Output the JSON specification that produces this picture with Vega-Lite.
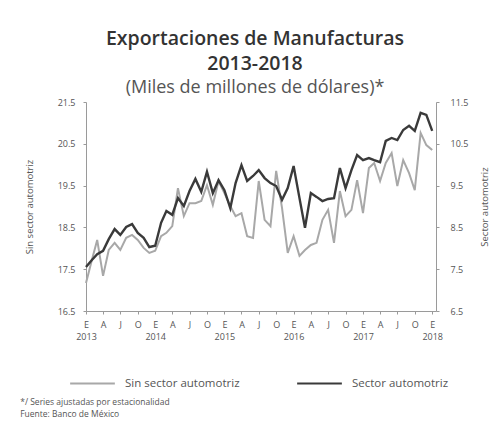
{
  "$schema": "https://vega.github.io/schema/vega-lite/v6.json",
  "padding": {"left": 20, "top": 28, "right": 6, "bottom": 8},
  "config": {
    "font": "Open Sans",
    "view": {"stroke": null},
    "axis": {"grid": false, "domainColor": "#9a9a9a", "tickColor": "#9a9a9a", "tickSize": 3, "labelFontSize": 9, "labelColor": "#555", "titleFontSize": 9.5, "titleFontWeight": "normal", "titleColor": "#555", "labelFont": "Open Sans"}
  },
  "title": {
    "text": ["*/ Series ajustadas por estacionalidad", "Fuente: Banco de México"],
    "orient": "bottom", "anchor": "start", "frame": "bounds",
    "fontSize": 8.5, "fontWeight": "normal", "color": "#555", "lineHeight": 12, "offset": 9, "dx": -4
  },
  "vconcat": [
    {
      "width": 350,
      "height": 209,
      "title": {
        "text": ["Exportaciones de Manufacturas", "2013-2018"],
        "subtitle": "(Miles de millones de dólares)*",
        "anchor": "middle", "frame": "group", "dx": -6,
        "fontSize": 19.5, "fontWeight": 600, "color": "#333", "lineHeight": 25,
        "subtitleFontSize": 18, "subtitleColor": "#555", "subtitlePadding": 5, "subtitleFont": "Open Sans",
        "offset": 0
      },
      "data": {
        "values": [
          {"fecha": "2013-01-01", "sin": 17.17, "sector": 7.55},
          {"fecha": "2013-02-01", "sin": 17.72, "sector": 7.72},
          {"fecha": "2013-03-01", "sin": 18.20, "sector": 7.86},
          {"fecha": "2013-04-01", "sin": 17.34, "sector": 7.94},
          {"fecha": "2013-05-01", "sin": 17.96, "sector": 8.22},
          {"fecha": "2013-06-01", "sin": 18.13, "sector": 8.46},
          {"fecha": "2013-07-01", "sin": 17.96, "sector": 8.32},
          {"fecha": "2013-08-01", "sin": 18.25, "sector": 8.51},
          {"fecha": "2013-09-01", "sin": 18.32, "sector": 8.58},
          {"fecha": "2013-10-01", "sin": 18.20, "sector": 8.37},
          {"fecha": "2013-11-01", "sin": 18.01, "sector": 8.25},
          {"fecha": "2013-12-01", "sin": 17.89, "sector": 8.03},
          {"fecha": "2014-01-01", "sin": 17.94, "sector": 8.06},
          {"fecha": "2014-02-01", "sin": 18.29, "sector": 8.61},
          {"fecha": "2014-03-01", "sin": 18.37, "sector": 8.89},
          {"fecha": "2014-04-01", "sin": 18.53, "sector": 8.80},
          {"fecha": "2014-05-01", "sin": 19.44, "sector": 9.20},
          {"fecha": "2014-06-01", "sin": 18.77, "sector": 9.01},
          {"fecha": "2014-07-01", "sin": 19.08, "sector": 9.37},
          {"fecha": "2014-08-01", "sin": 19.08, "sector": 9.66},
          {"fecha": "2014-09-01", "sin": 19.13, "sector": 9.35},
          {"fecha": "2014-10-01", "sin": 19.51, "sector": 9.83},
          {"fecha": "2014-11-01", "sin": 19.04, "sector": 9.32},
          {"fecha": "2014-12-01", "sin": 19.61, "sector": 9.63},
          {"fecha": "2015-01-01", "sin": 19.32, "sector": 9.39},
          {"fecha": "2015-02-01", "sin": 19.01, "sector": 8.96},
          {"fecha": "2015-03-01", "sin": 18.77, "sector": 9.56},
          {"fecha": "2015-04-01", "sin": 18.84, "sector": 9.99},
          {"fecha": "2015-05-01", "sin": 18.29, "sector": 9.61},
          {"fecha": "2015-06-01", "sin": 18.25, "sector": 9.73},
          {"fecha": "2015-07-01", "sin": 19.61, "sector": 9.87},
          {"fecha": "2015-08-01", "sin": 18.68, "sector": 9.68},
          {"fecha": "2015-09-01", "sin": 18.53, "sector": 9.56},
          {"fecha": "2015-10-01", "sin": 19.85, "sector": 9.49},
          {"fecha": "2015-11-01", "sin": 18.96, "sector": 9.16},
          {"fecha": "2015-12-01", "sin": 17.89, "sector": 9.44},
          {"fecha": "2016-01-01", "sin": 18.29, "sector": 9.97},
          {"fecha": "2016-02-01", "sin": 17.82, "sector": 9.20},
          {"fecha": "2016-03-01", "sin": 17.96, "sector": 8.49},
          {"fecha": "2016-04-01", "sin": 18.08, "sector": 9.32},
          {"fecha": "2016-05-01", "sin": 18.13, "sector": 9.23},
          {"fecha": "2016-06-01", "sin": 18.68, "sector": 9.13},
          {"fecha": "2016-07-01", "sin": 18.92, "sector": 9.18},
          {"fecha": "2016-08-01", "sin": 18.13, "sector": 9.20},
          {"fecha": "2016-09-01", "sin": 19.37, "sector": 9.92},
          {"fecha": "2016-10-01", "sin": 18.77, "sector": 9.44},
          {"fecha": "2016-11-01", "sin": 18.92, "sector": 9.87},
          {"fecha": "2016-12-01", "sin": 19.63, "sector": 10.23},
          {"fecha": "2017-01-01", "sin": 18.84, "sector": 10.11},
          {"fecha": "2017-02-01", "sin": 19.92, "sector": 10.16},
          {"fecha": "2017-03-01", "sin": 20.04, "sector": 10.11},
          {"fecha": "2017-04-01", "sin": 19.61, "sector": 10.06},
          {"fecha": "2017-05-01", "sin": 20.04, "sector": 10.57},
          {"fecha": "2017-06-01", "sin": 20.28, "sector": 10.64},
          {"fecha": "2017-07-01", "sin": 19.49, "sector": 10.59},
          {"fecha": "2017-08-01", "sin": 20.11, "sector": 10.83},
          {"fecha": "2017-09-01", "sin": 19.80, "sector": 10.93},
          {"fecha": "2017-10-01", "sin": 19.39, "sector": 10.81},
          {"fecha": "2017-11-01", "sin": 20.76, "sector": 11.24},
          {"fecha": "2017-12-01", "sin": 20.47, "sector": 11.19},
          {"fecha": "2018-01-01", "sin": 20.35, "sector": 10.81}
        ]
      },
      "encoding": {
        "x": {
          "field": "fecha", "type": "temporal",
          "scale": {"type": "utc", "domain": [{"year": 2013, "month": 1, "date": 1, "utc": true}, {"year": 2018, "month": 1, "date": 21, "utc": true}]},
          "axis": {
            "title": null,
            "values": [
              {"year": 2013, "month": 1, "date": 1, "utc": true}, {"year": 2013, "month": 4, "date": 1, "utc": true}, {"year": 2013, "month": 7, "date": 1, "utc": true}, {"year": 2013, "month": 10, "date": 1, "utc": true},
              {"year": 2014, "month": 1, "date": 1, "utc": true}, {"year": 2014, "month": 4, "date": 1, "utc": true}, {"year": 2014, "month": 7, "date": 1, "utc": true}, {"year": 2014, "month": 10, "date": 1, "utc": true},
              {"year": 2015, "month": 1, "date": 1, "utc": true}, {"year": 2015, "month": 4, "date": 1, "utc": true}, {"year": 2015, "month": 7, "date": 1, "utc": true}, {"year": 2015, "month": 10, "date": 1, "utc": true},
              {"year": 2016, "month": 1, "date": 1, "utc": true}, {"year": 2016, "month": 4, "date": 1, "utc": true}, {"year": 2016, "month": 7, "date": 1, "utc": true}, {"year": 2016, "month": 10, "date": 1, "utc": true},
              {"year": 2017, "month": 1, "date": 1, "utc": true}, {"year": 2017, "month": 4, "date": 1, "utc": true}, {"year": 2017, "month": 7, "date": 1, "utc": true}, {"year": 2017, "month": 10, "date": 1, "utc": true},
              {"year": 2018, "month": 1, "date": 1, "utc": true}
            ],
            "labelExpr": "utcmonth(datum.value) == 0 ? ['E', utcFormat(datum.value, '%Y')] : [utcmonth(datum.value) == 3 ? 'A' : utcmonth(datum.value) == 6 ? 'J' : 'O', '']",
            "labelLineHeight": 12,
            "labelPadding": 6,
            "labelOverlap": false,
            "labelFlush": false
          }
        }
      },
      "layer": [
        {
          "mark": {"type": "line", "strokeWidth": 2},
          "encoding": {
            "y": {
              "field": "sin", "type": "quantitative",
              "scale": {"domain": [16.5, 21.5], "nice": false, "zero": false},
              "axis": {"title": "Sin sector automotriz", "values": [16.5, 17.5, 18.5, 19.5, 20.5, 21.5], "format": ".1f", "labelPadding": 8, "titlePadding": 23}
            },
            "color": {
              "datum": "Sin sector automotriz",
              "scale": {"domain": ["Sin sector automotriz", "Sector automotriz"], "range": ["#a8a8a8", "#3a3a3a"]},
              "legend": {
                "title": null, "orient": "none", "legendX": -17, "legendY": 258, "direction": "horizontal",
                "symbolType": "stroke", "symbolSize": 2000, "symbolStrokeWidth": 2.2,
                "columnPadding": 52, "labelFontSize": 11.5, "labelColor": "#555", "labelOffset": 9
              }
            }
          }
        },
        {
          "mark": {"type": "line", "strokeWidth": 2.4},
          "encoding": {
            "y": {
              "field": "sector", "type": "quantitative",
              "scale": {"domain": [6.5, 11.5], "nice": false, "zero": false},
              "axis": {"orient": "right", "title": "Sector automotriz", "titleAngle": -90, "values": [6.5, 7.5, 8.5, 9.5, 10.5, 11.5], "format": ".1f", "labelPadding": 11, "titlePadding": 22}
            },
            "color": {"datum": "Sector automotriz"}
          }
        }
      ],
      "resolve": {"scale": {"y": "independent"}}
    }
  ]
}
